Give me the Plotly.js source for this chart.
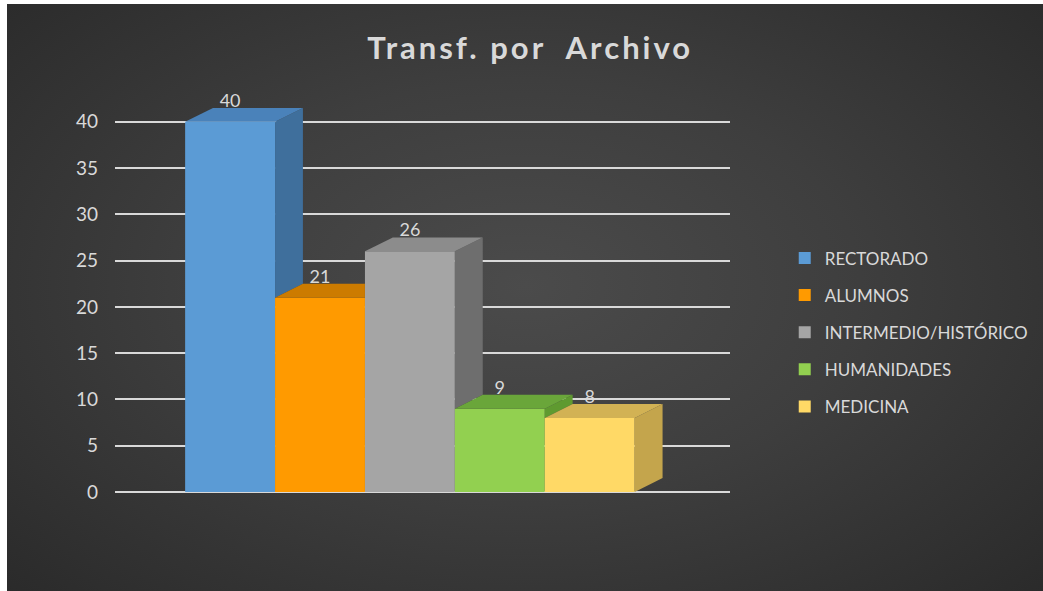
<!DOCTYPE html>
<html><head><meta charset="utf-8">
<script src="https://cdn.plot.ly/plotly-3.0.1.min.js"></script>
<style>
html,body{margin:0;padding:0;background:#ffffff;}
#wrap{position:absolute;left:7px;top:4px;width:1036px;height:587px;
  background:radial-gradient(ellipse 72% 78% at 50% 48%, #4b4b4b 0%, #3e3e3e 45%, #292929 100%);}
#chart{width:1036px;height:587px;}
.gtitle{letter-spacing:3px;}
</style></head><body><div id="wrap"><div id="chart"></div></div>
<script>
const categories = ['RECTORADO', 'ALUMNOS', 'INTERMEDIO/HISTÓRICO', 'HUMANIDADES', 'MEDICINA'];
const values = [40, 21, 26, 9, 8];
const frontColors = ['#5b9bd5', '#ff9a00', '#a5a5a5', '#92d050', '#ffd966'];
const sideColors  = ['#3f6f9c', '#bd7200', '#6e6e6e', '#5f9a30', '#c4a54c'];
const topColors   = ['#4a82ba', '#cc7b00', '#8c8c8c', '#6aa63a', '#d2b254'];
const titleText = 'Transf. por  Archivo';

const DX = 0.31, DY = 1.5;
const n = values.length;
const traces = [];

// front faces (bars, with legend)
for (let i = 0; i < n; i++) {
  traces.push({
    type: 'bar', x: [i], y: [values[i]], width: 1,
    name: categories[i], legendgroup: 'g' + i,
    marker: {color: frontColors[i], line: {width: 0}},
    hoverinfo: 'name+y'
  });
}
// side and top faces (computed from the values)
for (let i = 0; i < n; i++) {
  const v = values[i];
  const a = i + 0.5;
  const next = i < n - 1 ? values[i + 1] : 0;
  const base = Math.min(next, v);
  if (v > base) {
    traces.push({
      type: 'scatter', mode: 'lines', fill: 'toself',
      x: [a, a + DX, a + DX, a, a], y: [base, base + DY, v + DY, v, base],
      fillcolor: sideColors[i], line: {width: 0, color: sideColors[i]},
      showlegend: false, hoverinfo: 'skip'
    });
  }
  const right = next > v ? a : a + DX;
  traces.push({
    type: 'scatter', mode: 'lines', fill: 'toself',
    x: [i - 0.5, i - 0.5 + DX, right, a, i - 0.5], y: [v, v + DY, v + DY, v, v],
    fillcolor: topColors[i], line: {width: 0, color: topColors[i]},
    showlegend: false, hoverinfo: 'skip'
  });
}
// data labels
traces.push({
  type: 'scatter', mode: 'text',
  x: values.map((v, i) => i), y: values.map(v => v + DY + 0.6),
  text: values.map(String), textposition: 'middle center',
  textfont: {family: 'Lato, sans-serif', size: 18, color: '#d9d9d9'},
  showlegend: false, hoverinfo: 'skip'
});

const layout = {
  width: 1036, height: 587,
  paper_bgcolor: 'rgba(0,0,0,0)', plot_bgcolor: 'rgba(0,0,0,0)',
  margin: {l: 108, r: 313, t: 90, b: 99, autoexpand: false},
  barmode: 'overlay',
  title: {text: titleText, x: 0.505, xanchor: 'center', y: 0.925, yanchor: 'middle',
    font: {family: 'Lato, sans-serif', size: 31, color: '#d9d9d9', weight: 'bold'}},
  xaxis: {range: [-1.28, 5.56], visible: false, fixedrange: true},
  yaxis: {range: [0, 43], tick0: 0, dtick: 5, showgrid: true, gridcolor: '#d9d9d9', gridwidth: 2,
    zeroline: true, zerolinecolor: '#d9d9d9', zerolinewidth: 2, ticks: '', ticklabelstandoff: 16,
    tickfont: {family: 'Lato, sans-serif', size: 19, color: '#d9d9d9'}, fixedrange: true},
  showlegend: true,
  legend: {x: 1.089, xanchor: 'left', y: 0.632, yanchor: 'top', bgcolor: 'rgba(0,0,0,0)',
    tracegroupgap: 12, traceorder: 'grouped',
    font: {family: 'Lato, sans-serif', size: 17, color: '#d9d9d9'}}
};
Plotly.newPlot('chart', traces, layout, {displayModeBar: false, staticPlot: true});
</script></body></html>
